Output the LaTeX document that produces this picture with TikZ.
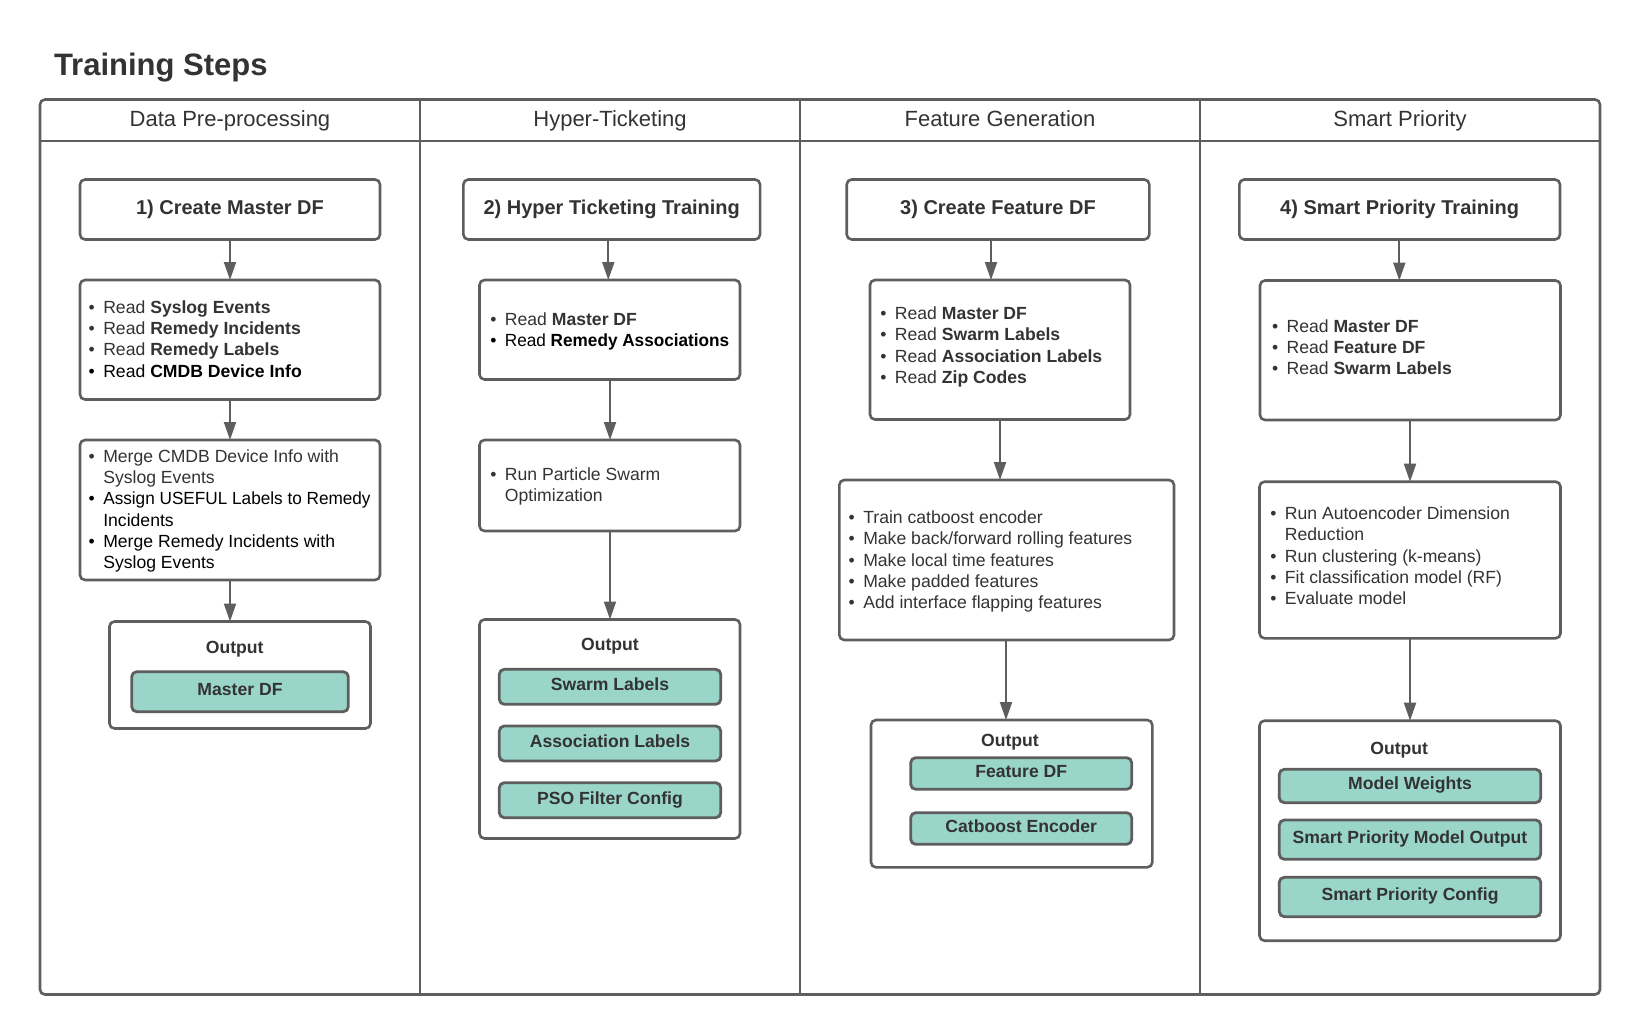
\documentclass[tikz,border=0pt]{standalone}
\usepackage{fontspec}
\usepackage{graphicx}
\setmainfont{Liberation Sans}
\usetikzlibrary{arrows.meta}
\definecolor{ink}{HTML}{333333}
\definecolor{edge}{HTML}{5E5E5E}
\definecolor{mint}{HTML}{9AD5CA}
\newcommand\fbody{\fontsize{17.6pt}{21.2pt}\selectfont}
\newcommand\ftitle{\fontsize{20pt}{24pt}\selectfont\bfseries}
\newcommand\fhead{\fontsize{22pt}{26pt}\selectfont}
\newcommand\bu{\makebox[14.6pt][l]{•}}
\newcommand\bi{\hspace*{14.6pt}}
\newcommand\blk[1]{{\color{black}#1}}
\newcommand\narrow[1]{\scalebox{0.976}[1]{#1}}

\begin{document}
\begin{tikzpicture}[x=1pt,y=-1pt,
  every node/.style={inner sep=0pt, outer sep=0pt, text=ink},
  frame/.style={draw=edge, line width=2.6pt},
  box/.style={draw=edge, line width=2.6pt, rounded corners=5pt, fill=white},
  stepbox/.style={box, font=\ftitle},
  mintbox/.style={draw=edge, line width=2.8pt, rounded corners=5pt, fill=mint,
    font=\fbody\bfseries, text height=12.6pt, text depth=5pt},
  list/.style={anchor=west, align=left, font=\fbody},
  outlbl/.style={font=\fbody\bfseries},
  head/.style={font=\fhead, anchor=base},
  arr/.style={draw=edge, line width=2pt, -{Triangle[length=18pt,width=12pt]}}
]
\useasboundingbox (0,0) rectangle (1640,1035);

% title
\node[anchor=base west, font=\fontsize{31pt}{37pt}\selectfont\bfseries] (title) at (54,76) {Training Steps};

% swimlane frame
\draw[frame, rounded corners=5pt] (40,99.5) rectangle (1600,994.5);
\draw[frame] (40,141) -- (1600,141);
\foreach \xx in {420,800,1200} \draw[frame] (\xx,99.5) -- (\xx,994.5);

\node[head] (h1) at (230,127) {Data Pre-processing};
\node[head] (h2) at (610,127) {Hyper-Ticketing};
\node[head] (h3) at (1000,127) {Feature Generation};
\node[head] (h4) at (1400,127) {Smart Priority};

% ---------- lane 1 ----------
\node[stepbox, minimum width=300pt, minimum height=60pt] (c1a) at (230,209.5) {1) Create Master DF};
\node[box, minimum width=300pt, minimum height=119.5pt] (c1b) at (230,339.75) {};
\node[list] (c1bt) at (88.7,339) {\bu Read \textbf{Syslog Events}\\
  \bu Read \textbf{Remedy Incidents}\\
  \bu Read \textbf{Remedy Labels}\\
  \blk{\bu Read \textbf{CMDB Device Info}}};
\node[box, minimum width=300pt, minimum height=140pt] (c1c) at (230,510) {};
\node[list] (c1ct) at (88.7,511) {\bu Merge CMDB Device Info with\\
  \bi Syslog Events\\
  \blk{\bu \narrow{Assign USEFUL Labels to Remedy}}\\
  \blk{\bi Incidents}\\
  \blk{\bu Merge Remedy Incidents with}\\
  \blk{\bi Syslog Events}};
\node[box, minimum width=261pt, minimum height=107pt] (c1o) at (240,675) {};
\node[outlbl] (c1ol) at (234.7,649.6) {Output};
\node[mintbox, minimum width=216.6pt, minimum height=40pt] (c1m) at (240,691.7) {Master DF};

\coordinate (x1) at (230,0);
\draw[arr] (c1a.south -| x1) -- (c1b.north -| x1);
\draw[arr] (c1b.south -| x1) -- (c1c.north -| x1);
\draw[arr] (c1c.south -| x1) -- (c1o.north -| x1);

% ---------- lane 2 ----------
\node[stepbox, minimum width=296.7pt, minimum height=60pt] (c2a) at (611.7,209.5) {2) Hyper Ticketing Training};
\node[box, minimum width=260.5pt, minimum height=99.5pt] (c2b) at (609.75,329.75) {};
\node[list] (c2bt) at (490.3,331.2) {\bu Read \textbf{Master DF}\\
  \blk{\bu \narrow{Read \textbf{Remedy Associations}}}};
\node[box, minimum width=260.5pt, minimum height=91pt] (c2c) at (609.75,485.5) {};
\node[list] (c2ct) at (490.3,486.2) {\bu Run Particle Swarm\\
  \bi Optimization};
\node[box, minimum width=260.5pt, minimum height=219pt] (c2o) at (609.75,729) {};
\node[outlbl] (c2ol) at (610,646.6) {Output};
\node[mintbox, minimum width=221.4pt, minimum height=35pt] (c2m1) at (610,686.8) {Swarm Labels};
\node[mintbox, minimum width=221.4pt, minimum height=35pt] (c2m2) at (610,743.5) {Association Labels};
\node[mintbox, minimum width=221.4pt, minimum height=35pt] (c2m3) at (610,800.2) {PSO Filter Config};

\coordinate (x2a) at (608.3,0);
\coordinate (x2) at (610,0);
\draw[arr] (c2a.south -| x2a) -- (c2b.north -| x2a);
\draw[arr] (c2b.south -| x2) -- (c2c.north -| x2);
\draw[arr] (c2c.south -| x2) -- (c2o.north -| x2);

% ---------- lane 3 ----------
\node[stepbox, minimum width=302.6pt, minimum height=60pt] (c3a) at (998,209.5) {3) Create Feature DF};
\node[box, minimum width=260pt, minimum height=139.5pt] (c3b) at (1000,349.75) {};
\node[list] (c3bt) at (880.3,347) {\bu Read \textbf{Master DF}\\
  \bu Read \textbf{Swarm Labels}\\
  \bu Read \textbf{Association Labels}\\
  \bu Read \textbf{Zip Codes}};
\node[box, minimum width=334.7pt, minimum height=160pt] (c3c) at (1006.65,560) {};
\node[list] (c3ct) at (848.7,561.5) {\bu Train catboost encoder\\
  \bu Make back/forward rolling features\\
  \bu Make local time features\\
  \bu Make padded features\\
  \bu Add interface flapping features};
\node[box, minimum width=281.3pt, minimum height=147.3pt] (c3o) at (1011.65,793.65) {};
\node[outlbl] (c3ol) at (1010,742.6) {Output};
\node[mintbox, minimum width=221pt, minimum height=31.6pt] (c3m1) at (1021.2,773.5) {Feature DF};
\node[mintbox, minimum width=221pt, minimum height=31.6pt] (c3m2) at (1021.2,828.5) {Catboost Encoder};

\coordinate (x3a) at (991,0);
\coordinate (x3b) at (1000,0);
\coordinate (x3c) at (1006,0);
\draw[arr] (c3a.south -| x3a) -- (c3b.north -| x3a);
\draw[arr] (c3b.south -| x3b) -- (c3c.north -| x3b);
\draw[arr] (c3c.south -| x3c) -- (c3o.north -| x3c);

% ---------- lane 4 ----------
\node[stepbox, minimum width=320.7pt, minimum height=60pt] (c4a) at (1399.65,209.5) {4) Smart Priority Training};
\node[box, minimum width=300.5pt, minimum height=139.5pt] (c4b) at (1410.25,350.25) {};
\node[list] (c4bt) at (1272,347.3) {\bu Read \textbf{Master DF}\\
  \bu Read \textbf{Feature DF}\\
  \bu Read \textbf{Swarm Labels}};
\node[box, minimum width=301pt, minimum height=156.6pt] (c4c) at (1410,560) {};
\node[list] (c4ct) at (1270.3,555.8) {\bu Run Autoencoder Dimension\\
  \bi Reduction\\
  \bu Run clustering (k-means)\\
  \bu Fit classification model (RF)\\
  \bu Evaluate model};
\node[box, minimum width=301pt, minimum height=220pt] (c4o) at (1410,830.7) {};
\node[outlbl] (c4ol) at (1399.2,749.9) {Output};
\node[mintbox, minimum width=261.4pt, minimum height=33.4pt] (c4m1) at (1410,786) {Model Weights};
\node[mintbox, minimum width=261.4pt, minimum height=39.3pt] (c4m2) at (1410,839.65) {Smart Priority Model Output};
\node[mintbox, minimum width=261.4pt, minimum height=39.4pt] (c4m3) at (1410,897) {Smart Priority Config};

\coordinate (x4a) at (1399.3,0);
\coordinate (x4) at (1410,0);
\draw[arr] (c4a.south -| x4a) -- (c4b.north -| x4a);
\draw[arr] (c4b.south -| x4) -- (c4c.north -| x4);
\draw[arr] (c4c.south -| x4) -- (c4o.north -| x4);
\end{tikzpicture}
\end{document}
